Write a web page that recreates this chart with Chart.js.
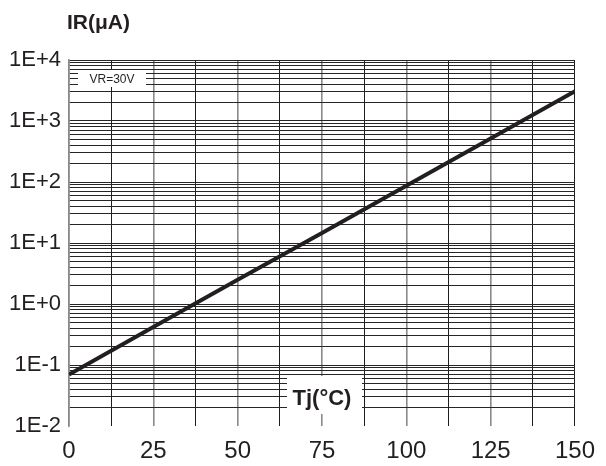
<!DOCTYPE html>
<html>
<head>
<meta charset="utf-8">
<script src="https://cdn.jsdelivr.net/npm/chart.js@4/dist/chart.umd.min.js"></script>
<style>
  html, body { margin: 0; padding: 0; background: #fff; }
  #wrap { width: 606px; height: 466px; }
</style>
</head>
<body>
<div id="wrap"><canvas id="myChart" width="606" height="466"></canvas></div>
<script>
// datos
const tj = [0, 25, 50, 75, 100, 125, 150]
const ir = [0.07, 0.42, 2.5, 14.6, 87, 515, 3070]
const xTicks = [0, 12.5, 25, 37.5, 50, 62.5, 75, 87.5, 100, 112.5, 125, 137.5, 150]
const decadas = [-2, -1, 0, 1, 2, 3, 4]
const tituloY = 'IR(μA)'
const tituloX = 'Tj(°C)'
const nota = 'VR=30V'

const fuente = "'Liberation Sans Narrow', 'Arial Narrow', 'Liberation Sans', Arial, sans-serif"

// ticks del eje log: 1..9 por decada
const yTicks = []
decadas.forEach((e, i) => {
    if (i == decadas.length - 1) {
        yTicks.push(Math.pow(10, e))
    } else {
        for (let s = 1; s <= 9; s++) {
            yTicks.push(Number((s * Math.pow(10, e)).toPrecision(6)))
        }
    }
})

const esDecada = (v) => {
    const e = Math.round(Math.log10(v))
    return Math.abs(v / Math.pow(10, e) - 1) < 1e-6
}

const etiquetaY = (v) => {
    if (!esDecada(v)) return ''
    const e = Math.round(Math.log10(v))
    return '1E' + (e >= 0 ? '+' : '-') + Math.abs(e)
}

// textos y cajas blancas
const anotaciones = {
    id: 'anotaciones',
    afterDraw(chart) {
        const ctx = chart.ctx
        ctx.save()
        ctx.fillStyle = '#231f20'
        ctx.font = "bold 21px " + fuente
        ctx.textAlign = 'left'
        ctx.textBaseline = 'alphabetic'
        ctx.fillText(tituloY, 67, 29)

        ctx.fillStyle = '#fff'
        ctx.fillRect(287, 376, 75, 38)
        ctx.fillStyle = '#231f20'
        ctx.font = "bold 22px " + fuente
        ctx.textAlign = 'center'
        ctx.fillText(tituloX, 322, 405)

        ctx.fillStyle = '#fff'
        ctx.fillRect(78, 70, 68, 17)
        ctx.fillStyle = '#231f20'
        ctx.font = "12px " + fuente
        ctx.fillText(nota, 112, 83)
        ctx.restore()
    }
}

const data = {
    datasets: [
        {
            label: 'IR',
            data: tj.map((t, i) => ({ x: t, y: ir[i] })),
            borderColor: '#231f20',
            borderWidth: 4,
            pointRadius: 0,
            tension: 0,
            fill: false
        }
    ]
}

const config = {
    type: 'line',
    data,
    plugins: [anotaciones],
    options: {
        responsive: false,
        animation: false,
        layout: { padding: { top: 60, right: 27, left: 0, bottom: 0 } },
        plugins: {
            legend: { display: false },
            tooltip: { enabled: false }
        },
        scales: {
            x: {
                type: 'linear',
                min: 0,
                max: 150,
                afterBuildTicks: (axis) => {
                    axis.ticks = xTicks.map((v) => ({ value: v }))
                },
                afterFit: (axis) => { axis.height = 40 },
                ticks: {
                    autoSkip: false,
                    maxRotation: 0,
                    padding: 11,
                    color: '#231f20',
                    font: { family: fuente, size: 24 },
                    callback: (v) => (v % 25 == 0 ? String(v) : '')
                },
                grid: {
                    color: (c) => (c.tick && c.tick.value % 25 == 0 && c.tick.value != 150 ? '#8a8a8a' : '#1e1e1e'),
                    lineWidth: (c) => (c.tick && c.tick.value % 25 == 0 && c.tick.value != 150 ? 1.6 : 1),
                    drawTicks: false
                },
                border: { display: false }
            },
            y: {
                type: 'logarithmic',
                min: 0.01,
                max: 10000,
                afterBuildTicks: (axis) => {
                    axis.ticks = yTicks.map((v) => ({ value: v }))
                },
                afterFit: (axis) => { axis.width = 69 },
                ticks: {
                    autoSkip: false,
                    padding: 8,
                    color: '#231f20',
                    font: { family: fuente, size: 22 },
                    callback: (v) => etiquetaY(v)
                },
                grid: {
                    color: (c) => (c.tick && c.tick.value <= 0.0100001 ? 'rgba(0,0,0,0)' : '#262626'),
                    lineWidth: 1,
                    drawTicks: false
                },
                border: { display: true, color: '#8a8a8a', width: 1.6 }
            }
        }
    }
}

const grafica = document.getElementById('myChart')
window.myChart = new Chart(grafica, config)
</script>
</body>
</html>
